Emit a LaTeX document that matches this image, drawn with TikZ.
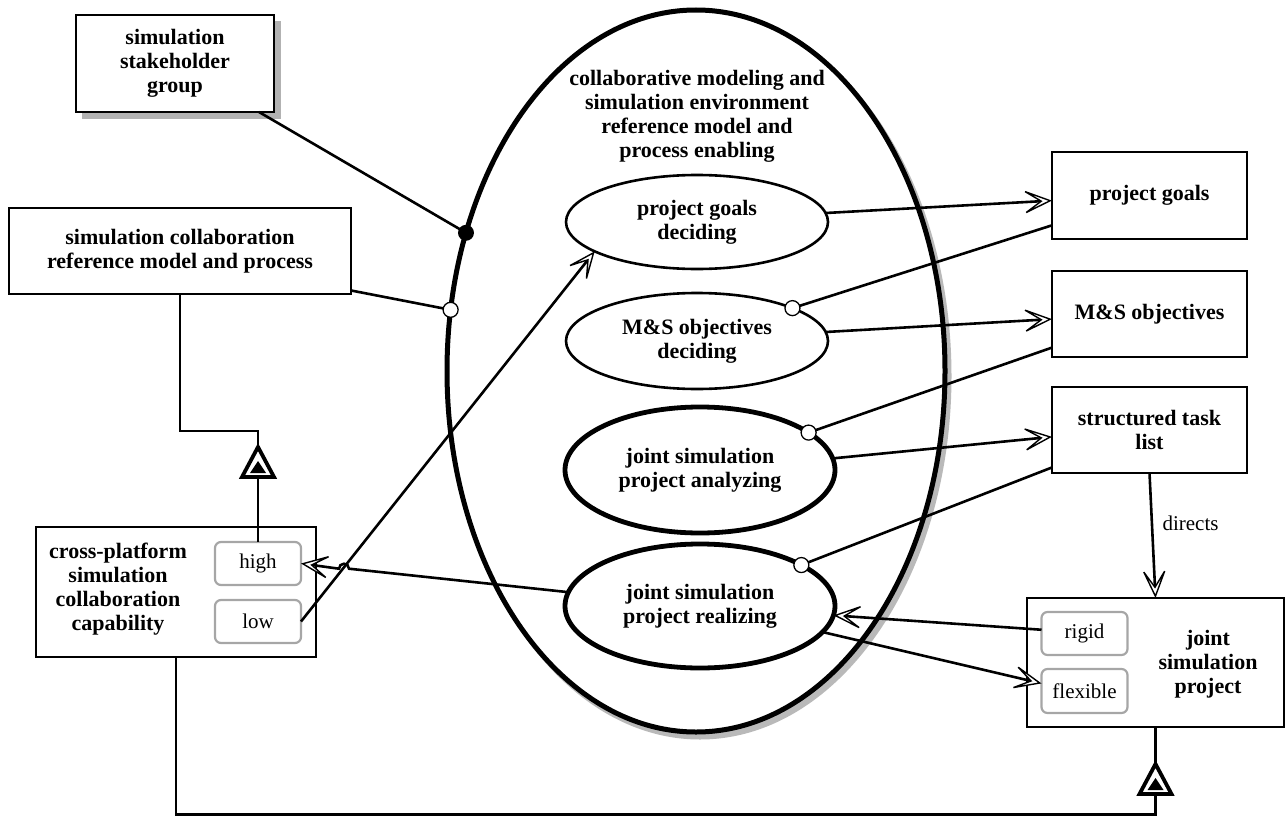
\documentclass[tikz,border=0pt]{standalone}
\usepackage{fontspec}
\setmainfont{Liberation Serif}
\usetikzlibrary{arrows.meta,shapes.geometric}
\begin{document}
\begin{tikzpicture}[x=1pt,y=-1pt,
  bfnt/.style={font=\fontsize{22}{24}\selectfont\bfseries},
  rfnt/.style={font=\fontsize{21}{24}\selectfont},
  lbl/.style={bfnt, align=center, inner sep=0pt},
  box/.style={draw, rectangle, line width=2.8pt, inner sep=0pt, outer sep=0pt, align=center, bfnt},
  subbox/.style={draw=gray!70, line width=2.2pt, rounded corners=6pt, minimum width=86pt, minimum height=43pt, inner sep=0pt, outer sep=0pt, rfnt},
  proc/.style={ellipse, draw, fill=white, line width=2.6pt, inner sep=0pt, outer sep=0pt, align=center, bfnt},
  tproc/.style={proc, line width=4.8pt},
  conn/.style={line width=2.6pt},
  oarr/.style={conn, -{Stealth[open, fill=white, length=33pt, width=28pt, inset=21pt, line width=1.4pt]}},
  ocirc/.style={circle, draw, fill=white, line width=1.3pt, minimum size=15pt, inner sep=0pt},
  fdot/.style={circle, fill=black, minimum size=16pt, inner sep=0pt},
  tri/.style={line width=3.8pt, fill=white, line join=miter}
]
\useasboundingbox (0,0) rectangle (1285,816);

% big ellipse with shadow
\fill[gray!55] (700,376) ellipse [x radius=251.5, y radius=363.5];
\node[ellipse, draw, fill=white, line width=5pt, minimum width=498pt, minimum height=722pt, inner sep=0pt, outer sep=0pt] (big) at (696,371) {};
\node[lbl] (bigt) at (697,116) {collaborative modeling and\\simulation environment\\reference model and\\process enabling};

% inner processes
\node[proc, minimum width=262pt, minimum height=94pt] (pgd) at (697,222) {project goals\\deciding};
\node[proc, minimum width=262pt, minimum height=96pt] (msd) at (697,341) {M\&S objectives\\deciding};
\node[tproc, minimum width=270pt, minimum height=126pt] (jspa) at (700,470) {joint simulation\\project analyzing};
\node[tproc, minimum width=270pt, minimum height=124pt] (jspr) at (700,606) {joint simulation\\project realizing};

% left boxes
\fill[gray!60] (82,21) rectangle (281,119);
\node[box, fill=white, minimum width=198pt, minimum height=97pt] (stake) at (175,63.5) {simulation\\stakeholder\\group};
\node[box, minimum width=342pt, minimum height=86pt] (scr) at (180,251) {simulation collaboration\\reference model and process};
\node[box, minimum width=280pt, minimum height=130pt] (cpc) at (176,592) {};
\node[lbl] (cpct) at (118,589) {cross-platform\\simulation\\collaboration\\capability};
\node[subbox] (high) at (258,563.5) {high};
\node[subbox] (low) at (258,621.5) {low};

% right boxes
\node[box, minimum width=195pt, minimum height=87pt] (pg) at (1149.5,195.5) {project goals};
\node[box, minimum width=195pt, minimum height=86pt] (mso) at (1149.5,314) {M\&S objectives};
\node[box, minimum width=195pt, minimum height=86pt] (stl) at (1149.5,430) {structured task\\list};
\node[box, minimum width=257pt, minimum height=129pt] (jsp) at (1155.5,662.5) {};
\node[lbl] (jspt) at (1208,664) {joint\\simulation\\project};
\node[subbox] (rigid) at (1084.5,633.5) {rigid};
\node[subbox, minimum height=44pt] (flex) at (1084.5,691) {flexible};

% structural links with triangles
\coordinate (b1) at (258,431);
\coordinate (t1top) at (258,446);
\coordinate (t1bot) at (258,478);
\draw[conn] (scr.south) |- (b1) -- (t1top);
\draw[conn] (t1bot) -- (high.north);
\draw[tri] (258,447) -- (242,477) -- (274,477) -- cycle;
\fill (258,461) -- (250,473) -- (266,473) -- cycle;

\coordinate (b2) at (1155.5,814.5);
\coordinate (t2top) at (1155.5,763);
\coordinate (t2bot) at (1155.5,795);
\draw[conn] (cpc.south) |- (b2) -- (t2bot);
\draw[conn] (jsp.south) -- (t2top);
\draw[tri] (1155.5,764) -- (1139.5,794) -- (1171.5,794) -- cycle;
\fill (1155.5,778) -- (1147.5,790) -- (1163.5,790) -- cycle;

% agent / instrument links
\draw[conn] (stake.-30.6) -- (big.149.8) node[fdot, pos=1] {};
\draw[conn] (scr.-13.8) -- (big.166.9) node[ocirc, pos=1] {};
\draw[conn] (pg.197.4) -- (msd.19.6) node[ocirc, pos=1] {};
\draw[conn] (mso.199.2) -- (jspa.19.5) node[ocirc, pos=1] {};
\draw[conn] (stl.201.4) -- (jspr.22.5) node[ocirc, pos=1] {};

% effect / result links
\draw[oarr] (low.east) -- (pgd.-164);
\coordinate (hopA) at (349,568.7);
\draw[oarr] (jspr.174) -- (hopA) arc[start angle=0, end angle=-180, radius=5] -- (high.east);
\draw[oarr] (pgd.4) -- (pg.183.8);
\draw[oarr] (msd.4) -- (mso.183.5);
\draw[oarr] (jspa.5) -- (stl.184.8);
\draw[oarr] (stl.south) -- (jsp.north) node[pos=0.4, right=6pt, rfnt] (dir) {directs};
\draw[oarr] (rigid.175) -- (jspr.-4);
\draw[oarr] (jspr.-12) -- (flex.170);
\end{tikzpicture}
\end{document}
